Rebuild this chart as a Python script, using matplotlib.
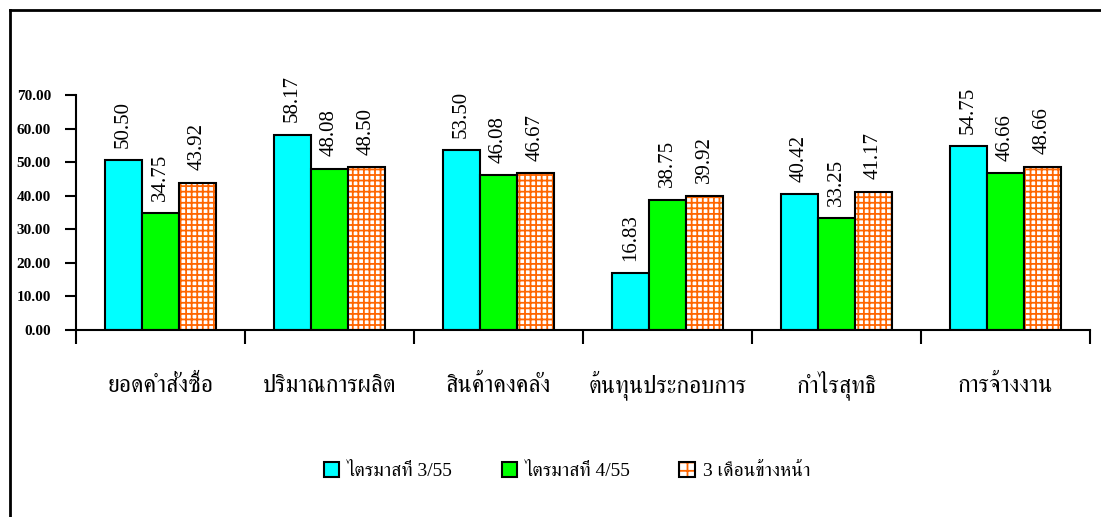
import matplotlib
matplotlib.use("Agg")
import matplotlib.pyplot as plt
import numpy as np
from matplotlib.patches import Patch
from matplotlib.lines import Line2D

plt.rcParams["hatch.linewidth"] = 1.3

categories = ["ยอดคำสั่งซื้อ", "ปริมาณการผลิต", "สินค้าคงคลัง",
              "ต้นทุนประกอบการ", "กำไรสุทธิ", "การจ้างงาน"]
series_names = ["ไตรมาสที่ 3/55", "ไตรมาสที่ 4/55", "3 เดือนข้างหน้า"]
q3_55 = [50.50, 58.17, 53.50, 16.83, 40.42, 54.75]
q4_55 = [34.75, 48.08, 46.08, 38.75, 33.25, 46.66]
next_3m = [43.92, 48.50, 46.67, 39.92, 41.17, 48.66]
yticks = [0, 10, 20, 30, 40, 50, 60, 70]

THAI = ["Liberation Serif", "FreeSerif"]
ORANGE = "#FF6600"

fig = plt.figure(figsize=(11.01, 5.17), dpi=100)
ax = fig.add_axes([76 / 1101, 1 - 330 / 517, (1090 - 76) / 1101, 235 / 517])

x = np.arange(len(categories)) + 0.5
w = 0.219

ax.bar(x - w, q3_55, w, color="#00FFFF", edgecolor="black", linewidth=1.5, zorder=2)
ax.bar(x, q4_55, w, color="#00FF00", edgecolor="black", linewidth=1.5, zorder=2)
ax.bar(x + w, next_3m, w, color="white", edgecolor=ORANGE, hatch="+++", linewidth=0, zorder=2)
ax.bar(x + w, next_3m, w, fill=False, edgecolor="black", linewidth=1.5, zorder=3)

for off, vals in [(-w, q3_55), (0, q4_55), (w, next_3m)]:
    for xi, v in zip(x + off, vals):
        ax.annotate(f"{v:.2f}", (xi, v), xytext=(0, 9), textcoords="offset points",
                    rotation=90, ha="center", va="bottom", fontsize=15,
                    family="Liberation Serif")

ax.set_xlim(0, 6)
ax.set_ylim(0, 70)
ax.set_yticks(yticks)
ax.set_yticklabels([f"{t:.2f}" for t in yticks], family="Liberation Serif",
                   fontweight="bold", fontsize=11)
ax.set_xticks(range(7))
ax.set_xticklabels([])
ax.set_xticks(x, minor=True)
ax.set_xticklabels(categories, minor=True, family=THAI, fontsize=17, va="baseline")
ax.tick_params(axis="x", which="major", length=10, width=1.5, direction="out")
ax.tick_params(axis="x", which="minor", length=0, pad=45)
ax.tick_params(axis="y", length=8, width=1.5, direction="out", pad=10)
for s in ["top", "right"]:
    ax.spines[s].set_visible(False)
for s in ["left", "bottom"]:
    ax.spines[s].set_linewidth(1.5)

handles = [Patch(facecolor="#00FFFF", edgecolor="black", linewidth=1.5),
           Patch(facecolor="#00FF00", edgecolor="black", linewidth=1.5),
           (Patch(facecolor="white", edgecolor=ORANGE, hatch="++", linewidth=0),
            Patch(fill=False, edgecolor="black", linewidth=1.5))]
fig.legend(handles, series_names, loc="center", bbox_to_anchor=(567 / 1101, 1 - 471 / 517),
           ncol=3, frameon=False, prop={"family": THAI, "size": 14},
           handlelength=0.8, handleheight=0.8, handletextpad=0.4, columnspacing=2.5)

# outer frame (left and top edges only)
fig.add_artist(Line2D([10 / 1101, 10 / 1101], [0, 1 - 10 / 517], color="black", lw=2))
fig.add_artist(Line2D([10 / 1101, 1], [1 - 10 / 517, 1 - 10 / 517], color="black", lw=2))

fig.savefig("out.png")
